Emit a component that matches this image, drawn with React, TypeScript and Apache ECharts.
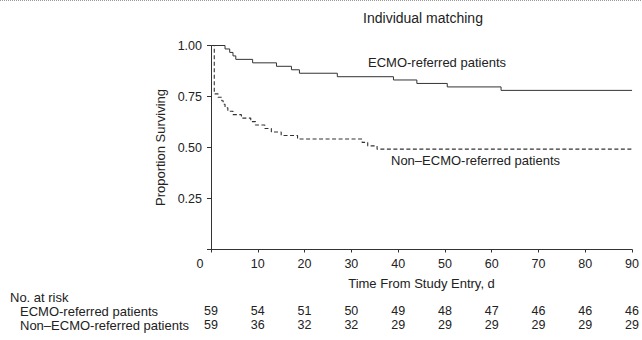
import React, { useEffect, useRef } from "react";
import * as echarts from "echarts";

// Kaplan–Meier steps (day, proportion surviving after that day)
const ecmoDays = [0, 3, 4, 4.7, 5.3, 8.9, 14, 17.2, 18.9, 27, 39, 44, 50.5, 62, 90];
const ecmoSurv = [1.0, 0.983, 0.966, 0.949, 0.932, 0.915, 0.898, 0.881, 0.864, 0.847, 0.831, 0.814, 0.797, 0.78, 0.78];

const nonDays = [0, 0.7, 1.5, 2.3, 2.6, 3.0, 3.6, 4.7, 6.5, 8.5, 9.5, 11.5, 12.9, 15, 18.5, 32.3, 33.5, 35.5, 90];
const nonSurv = [1.0, 0.763, 0.746, 0.729, 0.712, 0.695, 0.678, 0.661, 0.644, 0.627, 0.61, 0.593, 0.576, 0.559, 0.542, 0.525, 0.508, 0.492, 0.492];

// Number at risk table
const riskDays = [0, 10, 20, 30, 40, 50, 60, 70, 80, 90];
const ecmoAtRisk = [59, 54, 51, 50, 49, 48, 47, 46, 46, 46];
const nonAtRisk = [59, 36, 32, 32, 29, 29, 29, 29, 29, 29];

const yTicks = ["0.25", "0.50", "0.75", "1.00"];

const FONT = '"Liberation Sans", Arial, Helvetica, sans-serif';
const TXT = "#222";
const LINE = "#333";

export default function App() {
  const ref = useRef<HTMLDivElement>(null);
  useEffect(() => {
    if (!ref.current) return;
    const chart = echarts.init(ref.current, undefined, { renderer: "svg" });
    const riskAxis = (arr: number[], offset: number) => ({
      type: "value",
      gridIndex: 0,
      position: "bottom",
      offset,
      min: 0,
      max: 90,
      interval: 10,
      axisLine: { show: false },
      axisTick: { show: false },
      splitLine: { show: false },
      axisLabel: {
        margin: 8,
        fontSize: 12.5,
        color: TXT,
        fontFamily: FONT,
        formatter: (v: number) => {
          const i = riskDays.indexOf(Math.round(v));
          return i >= 0 ? String(arr[i]) : "";
        },
      },
    });
    const option: any = {
      animation: false,
      backgroundColor: "#fff",
      textStyle: { fontFamily: FONT, color: TXT },
      grid: { left: 211, right: 8, top: 45.5, bottom: 90.5, containLabel: false },
      xAxis: [
        {
          type: "value",
          min: 0,
          max: 90,
          interval: 10,
          axisLine: { lineStyle: { color: LINE, width: 1 } },
          axisTick: { length: 3, lineStyle: { color: LINE } },
          splitLine: { show: false },
          axisLabel: {
            margin: 8,
            fontSize: 12.5,
            color: TXT,
            fontFamily: FONT,
            formatter: (v: number) => (v === 0 ? "" : String(v)),
          },
          name: "Time From Study Entry, d",
          nameLocation: "middle",
          nameGap: 27,
          nameTextStyle: { fontSize: 13, color: TXT, fontFamily: FONT },
        },
        riskAxis(ecmoAtRisk, 47),
        riskAxis(nonAtRisk, 61),
      ],
      yAxis: {
        type: "value",
        min: 0,
        max: 1,
        interval: 0.25,
        axisLine: { show: true, lineStyle: { color: LINE, width: 1 } },
        axisTick: { show: true, length: 4, lineStyle: { color: LINE } },
        splitLine: { show: false },
        axisLabel: {
          margin: 9,
          fontSize: 12.5,
          color: TXT,
          fontFamily: FONT,
          formatter: (v: number) => {
            const s = v.toFixed(2);
            return yTicks.indexOf(s) >= 0 ? s : "";
          },
        },
        name: "Proportion Surviving",
        nameLocation: "middle",
        nameGap: 44,
        nameTextStyle: { fontSize: 13, color: TXT, fontFamily: FONT },
      },
      series: [
        {
          name: "ECMO-referred patients",
          type: "line",
          step: "end",
          symbol: "none",
          data: ecmoDays.map((d, i) => [d, ecmoSurv[i]]),
          lineStyle: { color: LINE, width: 1 },
        },
        {
          name: "Non–ECMO-referred patients",
          type: "line",
          step: "end",
          symbol: "none",
          data: nonDays.map((d, i) => [d, nonSurv[i]]),
          lineStyle: { color: LINE, width: 1.1, type: [4, 2.5] },
        },
      ],
      graphic: [
        {
          type: "line",
          shape: { x1: 0, y1: 0.5, x2: 642, y2: 0.5 },
          style: { stroke: "#999", lineWidth: 1, lineDash: [1, 1] },
        },
        {
          type: "text",
          x: 423,
          y: 18,
          style: { text: "Individual matching", fill: TXT, font: `14px ${FONT}`, align: "center", verticalAlign: "middle" },
        },
        {
          type: "text",
          x: 368,
          y: 62,
          style: { text: "ECMO-referred patients", fill: TXT, font: `13px ${FONT}`, align: "left", verticalAlign: "middle" },
        },
        {
          type: "text",
          x: 391,
          y: 160,
          style: { text: "Non–ECMO-referred patients", fill: TXT, font: `13px ${FONT}`, align: "left", verticalAlign: "middle" },
        },
        {
          type: "text",
          x: 200,
          y: 264,
          style: { text: "0", fill: TXT, font: `12.5px ${FONT}`, align: "center", verticalAlign: "middle" },
        },
        {
          type: "text",
          x: 10,
          y: 297,
          style: { text: "No. at risk", fill: TXT, font: `13px ${FONT}`, align: "left", verticalAlign: "middle" },
        },
        {
          type: "text",
          x: 20,
          y: 311,
          style: { text: "ECMO-referred patients", fill: TXT, font: `13px ${FONT}`, align: "left", verticalAlign: "middle" },
        },
        {
          type: "text",
          x: 20,
          y: 325,
          style: { text: "Non–ECMO-referred patients", fill: TXT, font: `13px ${FONT}`, align: "left", verticalAlign: "middle" },
        },
      ],
    };
    chart.setOption(option);
    return () => chart.dispose();
  }, []);
  return <div ref={ref} style={{ position: "absolute", left: 0, top: 0, width: 642, height: 340 }} />;
}
